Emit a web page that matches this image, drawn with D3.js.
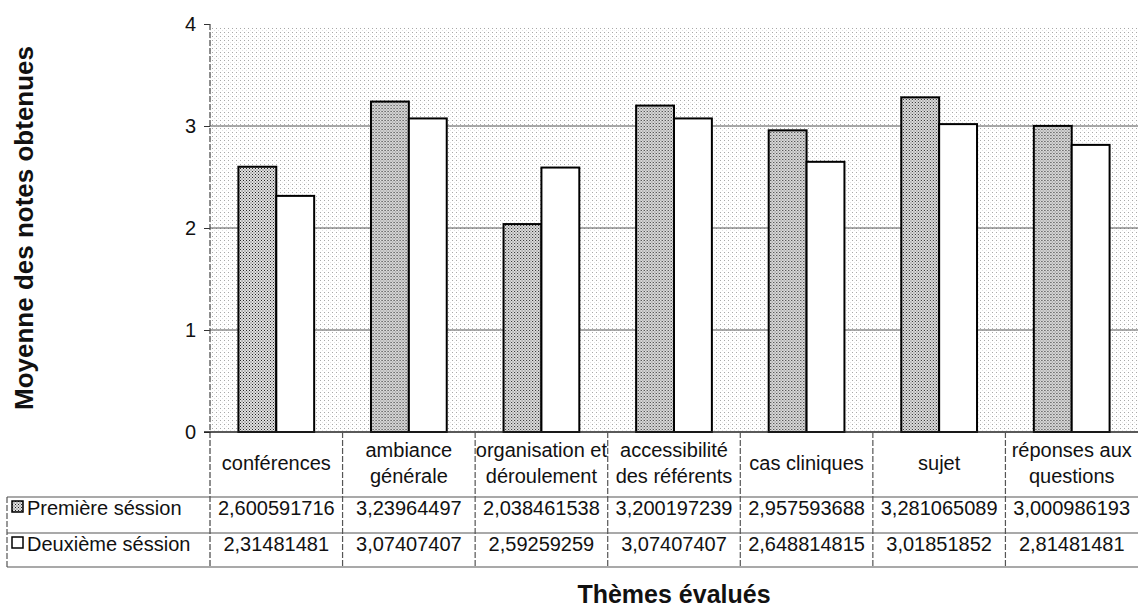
<!DOCTYPE html>
<html>
<head>
<meta charset="utf-8">
<script src="https://cdn.jsdelivr.net/npm/d3@7"></script>
<style>
  body { margin: 0; background: #fff; }
  svg { display: block; font-family: "Liberation Sans", Arial, sans-serif; }
</style>
</head>
<body>
<svg id="chart" width="1138" height="608"></svg>
<script>
const categories = ['conférences', 'ambiance générale', 'organisation et déroulement',
    'accessibilité des référents', 'cas cliniques', 'sujet', 'réponses aux questions'];
const categoryLines = [['conférences'], ['ambiance', 'générale'], ['organisation et', 'déroulement'],
    ['accessibilité', 'des référents'], ['cas cliniques'], ['sujet'], ['réponses aux', 'questions']];
const seriesNames = ['Première séssion', 'Deuxième séssion'];
const firstSession = [2.600591716, 3.23964497, 2.038461538, 3.200197239, 2.957593688, 3.281065089, 3.000986193];
const secondSession = [2.31481481, 3.07407407, 2.59259259, 3.07407407, 2.648814815, 3.01851852, 2.81481481];
const firstLabels = ['2,600591716', '3,23964497', '2,038461538', '3,200197239', '2,957593688', '3,281065089', '3,000986193'];
const secondLabels = ['2,31481481', '3,07407407', '2,59259259', '3,07407407', '2,648814815', '3,01851852', '2,81481481'];
const yTicks = [0, 1, 2, 3, 4];

const svg = d3.select('#chart');
const plotLeft = 210, plotRight = 1138, plotTop = 24, plotBottom = 432;
const headerBottom = 497, row1Bottom = 533, row2Bottom = 567, tableLeft = 7;

// patterns
const defs = svg.append('defs');
const bg = defs.append('pattern').attr('id', 'bgDots')
    .attr('width', 4).attr('height', 4).attr('patternUnits', 'userSpaceOnUse');
bg.append('rect').attr('width', 4).attr('height', 4).attr('fill', '#fff');
bg.append('rect').attr('x', 0).attr('y', 0).attr('width', 1).attr('height', 1).attr('fill', '#a8a8a8');
bg.append('rect').attr('x', 2).attr('y', 2).attr('width', 1).attr('height', 1).attr('fill', '#e2e2e2');

const grey = defs.append('pattern').attr('id', 'greyFill')
    .attr('width', 3).attr('height', 3).attr('patternUnits', 'userSpaceOnUse');
grey.append('rect').attr('width', 3).attr('height', 3).attr('fill', '#e0e0e0');
grey.append('rect').attr('x', 0).attr('y', 0).attr('width', 1).attr('height', 1).attr('fill', '#222');
grey.append('rect').attr('x', 1.5).attr('y', 1.5).attr('width', 1).attr('height', 1).attr('fill', '#444');

const fills = ['url(#greyFill)', '#fff'];

const x = d3.scaleBand().domain(categories).range([plotLeft, plotRight]);
const xs = d3.scaleBand().domain(seriesNames).range([0, x.bandwidth()]).paddingOuter(0.75);
const y = d3.scaleLinear().domain([0, 4]).range([plotBottom, plotTop]);

// plot background
svg.append('rect')
    .attr('x', plotLeft).attr('y', y(4) + 3)
    .attr('width', plotRight - plotLeft).attr('height', plotBottom - y(4) - 3)
    .attr('fill', 'url(#bgDots)');

// gridlines
svg.append('g')
    .selectAll('line')
    .data(yTicks.filter(d => d > 0 && d < 4))
    .join('line')
    .attr('x1', plotLeft).attr('x2', plotRight)
    .attr('y1', d => y(d)).attr('y2', d => y(d))
    .attr('stroke', '#555').attr('stroke-width', 1.2);

// bars
const data = categories.map((c, i) => ({ c, values: [firstSession[i], secondSession[i]] }));
svg.append('g')
    .selectAll('g')
    .data(data)
    .join('g')
    .attr('transform', d => `translate(${x(d.c)},0)`)
    .selectAll('rect')
    .data(d => d.values.map((v, j) => ({ v, j })))
    .join('rect')
    .attr('x', d => xs(seriesNames[d.j]))
    .attr('y', d => y(d.v))
    .attr('width', xs.bandwidth())
    .attr('height', d => y(0) - y(d.v))
    .attr('fill', d => fills[d.j])
    .attr('stroke', '#000')
    .attr('stroke-width', 2);

// y axis
const yAxis = svg.append('g')
    .attr('transform', `translate(${plotLeft},0)`)
    .call(d3.axisLeft(y).tickValues(yTicks).tickSize(6).tickPadding(8).tickFormat(d3.format('d')));
yAxis.select('.domain').remove();
yAxis.selectAll('.tick line').attr('stroke', '#333');
yAxis.selectAll('.tick text').attr('font-size', 20).attr('fill', '#111')
    .attr('font-family', '"Liberation Sans", Arial, sans-serif');

svg.append('line')
    .attr('x1', plotLeft).attr('x2', plotLeft).attr('y1', plotTop).attr('y2', row2Bottom)
    .attr('stroke', '#444').attr('stroke-width', 1.2).attr('stroke-dasharray', '6,2');

// x axis baseline
svg.append('line')
    .attr('x1', plotLeft - 6).attr('x2', plotRight).attr('y1', plotBottom).attr('y2', plotBottom)
    .attr('stroke', '#222').attr('stroke-width', 1.5);

// data table
const table = svg.append('g').attr('fill', 'none').attr('stroke', '#555').attr('stroke-width', 1.2);
[headerBottom, row1Bottom, row2Bottom].forEach(yy => {
    table.append('line').attr('x1', tableLeft).attr('x2', plotRight).attr('y1', yy).attr('y2', yy);
});
table.append('line').attr('x1', tableLeft).attr('x2', tableLeft).attr('y1', headerBottom).attr('y2', row2Bottom)
    .attr('stroke-dasharray', '6,2');
table.selectAll('.colLine')
    .data(categories.slice(1))
    .join('line')
    .attr('class', 'colLine')
    .attr('x1', d => x(d)).attr('x2', d => x(d))
    .attr('y1', plotBottom).attr('y2', row2Bottom)
    .attr('stroke-dasharray', '6,2');

// header labels
const headers = svg.append('g').attr('font-size', 20).attr('fill', '#111').attr('text-anchor', 'middle');
headers.selectAll('text')
    .data(categories)
    .join('text')
    .attr('x', d => x(d) + x.bandwidth() / 2)
    .attr('y', (d, i) => categoryLines[i].length === 1 ? 470 : 457)
    .each(function (d, i) {
        d3.select(this).selectAll('tspan')
            .data(categoryLines[i])
            .join('tspan')
            .attr('x', x(d) + x.bandwidth() / 2)
            .attr('dy', (t, k) => k === 0 ? 0 : 26)
            .text(t => t);
    });

// value rows
const rows = [firstLabels, secondLabels];
const rowBase = [515, 551];
rows.forEach((labels, r) => {
    svg.append('g').attr('font-size', 20).attr('fill', '#111').attr('text-anchor', 'middle')
        .selectAll('text')
        .data(labels)
        .join('text')
        .attr('x', (d, i) => x(categories[i]) + x.bandwidth() / 2)
        .attr('y', rowBase[r])
        .text(d => d);
});

// legend keys
seriesNames.forEach((name, r) => {
    svg.append('rect')
        .attr('x', 12).attr('y', rowBase[r] - 14)
        .attr('width', 11).attr('height', 11)
        .attr('fill', fills[r]).attr('stroke', '#000').attr('stroke-width', 1.5);
    svg.append('text')
        .attr('x', 27).attr('y', rowBase[r])
        .attr('font-size', 20).attr('fill', '#111')
        .text(name);
});

// axis titles
svg.append('text')
    .attr('x', (plotLeft + plotRight) / 2).attr('y', 603)
    .attr('text-anchor', 'middle')
    .attr('font-size', 25).attr('font-weight', 'bold').attr('fill', '#111')
    .text('Thèmes évalués');

svg.append('text')
    .attr('transform', `translate(33,${(plotTop + plotBottom) / 2}) rotate(-90)`)
    .attr('text-anchor', 'middle')
    .attr('font-size', 26).attr('font-weight', 'bold').attr('fill', '#111')
    .text('Moyenne des notes obtenues');
</script>
</body>
</html>
